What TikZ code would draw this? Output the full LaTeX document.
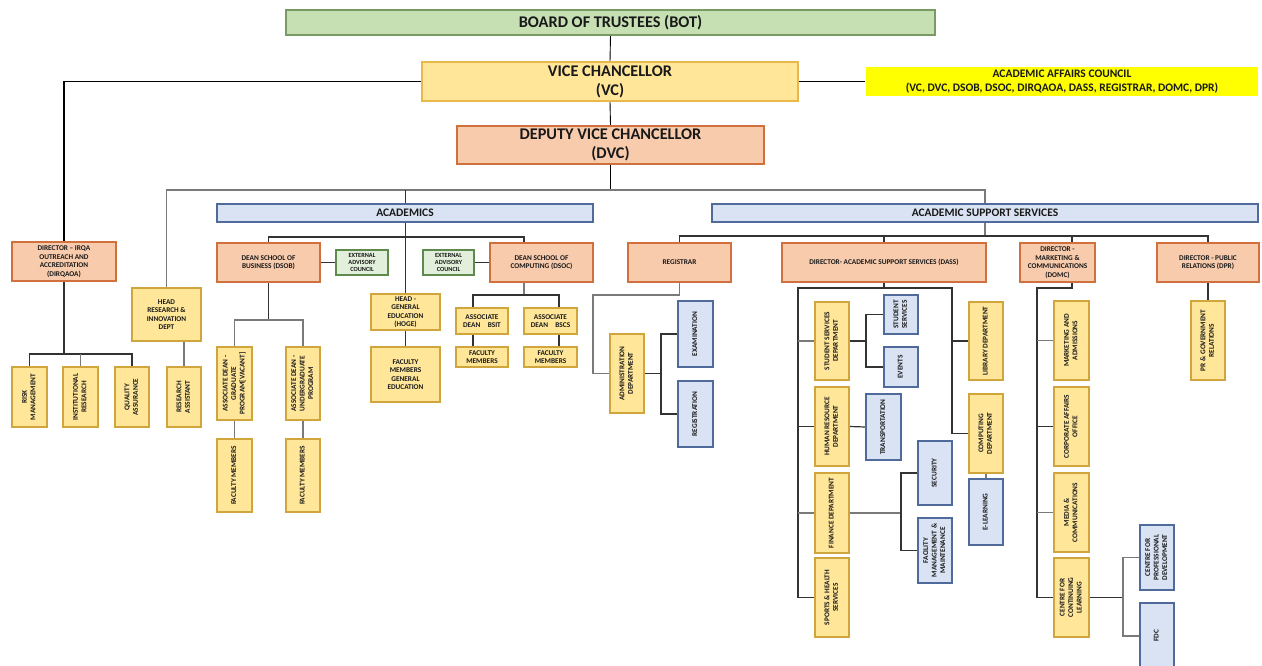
\documentclass[tikz,border=0pt]{standalone}
\usepackage{fontspec}
\setmainfont{Carlito}
\usepackage{graphicx}
\usetikzlibrary{backgrounds}

\definecolor{grnFill}{HTML}{C6E0B4}
\definecolor{grnLine}{HTML}{7A9A64}
\definecolor{eacFill}{HTML}{E2EFDA}
\definecolor{eacLine}{HTML}{5E8A4E}
\definecolor{vcFill}{HTML}{FFE699}
\definecolor{vcLine}{HTML}{E8B84A}
\definecolor{salFill}{HTML}{F8CBAD}
\definecolor{salLine}{HTML}{D0703C}
\definecolor{yelFill}{HTML}{FFE699}
\definecolor{yelLine}{HTML}{CFA53C}
\definecolor{bluFill}{HTML}{DAE3F3}
\definecolor{bluLine}{HTML}{4F6A9B}
\definecolor{aacFill}{HTML}{FFFF00}
\definecolor{wireDark}{HTML}{333333}
\definecolor{wireGray}{HTML}{7A7A7A}

\newcommand\smallf{\fontsize{7.3}{8.5}\selectfont}
\newcommand\tinyf{\fontsize{6.3}{7.4}\selectfont}
\newcommand\bigf{\fontsize{16.3}{19}\selectfont}
\newcommand\midf{\fontsize{11.5}{13.5}\selectfont}
% rotated multi-line label for the tall narrow boxes
\newcommand\vtext[1]{\rotatebox{90}{\begin{tabular}{@{}c@{}}#1\end{tabular}}}
% box from its corners: style, x1, y1, x2, y2, name, text
\newcommand\obox[7]{\node[#1,minimum width={(#4)-(#2)},minimum height={(#5)-(#3)}] (#6) at ({((#2)+(#4))/2},{((#3)+(#5))/2}) {#7};}

\tikzset{
  boxbase/.style={draw, line width=1.1pt, inner sep=0pt, align=center, font=\bfseries\smallf, text=black!90},
  grn/.style={boxbase, fill=grnFill, draw=grnLine},
  eac/.style={boxbase, fill=eacFill, draw=eacLine, font=\bfseries\tinyf},
  vcb/.style={boxbase, fill=vcFill, draw=vcLine},
  aacb/.style={boxbase, fill=aacFill, draw=none},
  sal/.style={boxbase, fill=salFill, draw=salLine, line width=1.3pt},
  yel/.style={boxbase, fill=yelFill, draw=yelLine},
  blu/.style={boxbase, fill=bluFill, draw=bluLine},
  wire/.style={draw=wireDark, line width=1.2pt},
  wireg/.style={draw=wireGray, line width=1.2pt},
  wiret/.style={draw=black, line width=0.9pt},
  wireb/.style={draw=black, line width=1.6pt},
}

\begin{document}
\begin{tikzpicture}[x=1pt,y=-1pt]
\useasboundingbox (0,0) rectangle (1262,666);

% ---- top of the organisation ----
\obox{grn,font=\bfseries\bigf}{286}{10}{935}{35}{bot}{BOARD OF TRUSTEES (BOT)}
\obox{vcb,font=\bfseries\bigf}{422}{62}{798}{101}{vc}{VICE CHANCELLOR\\(VC)}
\obox{aacb,font=\bfseries\midf}{866}{67}{1258}{96}{aac}{ACADEMIC AFFAIRS COUNCIL\\(VC, DVC, DSOB, DSOC, DIRQAOA, DASS, REGISTRAR, DOMC, DPR)}
\obox{sal,font=\bfseries\bigf}{457}{126}{764}{164}{dvc}{DEPUTY VICE CHANCELLOR\\(DVC)}
\obox{blu,font=\bfseries\midf}{217}{204}{593}{222}{acad}{ACADEMICS}
\obox{blu,font=\bfseries\midf}{712}{204}{1258}{222}{ass}{ACADEMIC SUPPORT SERVICES}

% ---- quality assurance and research ----
\obox{sal}{12}{242}{116}{281}{dirq}{DIRECTOR – IRQA\\OUTREACH AND\\ACCREDITATION\\(DIRQAOA)}
\obox{yel}{12}{367}{47}{427}{risk}{\vtext{RISK\\MANAGEMENT}}
\obox{yel}{63}{367}{98}{427}{inst}{\vtext{INSTITUTIONAL\\RESEARCH}}
\obox{yel}{115}{367}{149}{427}{qa}{\vtext{QUALITY\\ASSURANCE}}
\obox{yel}{132}{288}{201}{341}{rih}{HEAD\\RESEARCH \&\\INNOVATION\\DEPT}
\obox{yel}{167}{367}{201}{427}{ra}{\vtext{RESEARCH\\ASSISTANT}}

% ---- school of business ----
\obox{sal}{217}{243}{320}{282}{dsob}{DEAN SCHOOL OF\\BUSINESS (DSOB)}
\obox{eac}{336}{250}{388}{275}{eaca}{EXTERNAL\\ADVISORY\\COUNCIL}
\obox{yel}{217}{347}{252}{420}{adg}{\vtext{ASSOCIATE DEAN -\\GRADUATE\\PROGRAM[VACANT]}}
\obox{yel}{286}{347}{320}{420}{adu}{\vtext{ASSOCIATE DEAN -\\UNDERGRADUATE\\PROGRAM}}
\obox{yel}{217}{439}{252}{512}{fma}{\vtext{FACULTY MEMBERS}}
\obox{yel}{286}{439}{320}{512}{fmb}{\vtext{FACULTY MEMBERS}}

% ---- general education ----
\obox{yel}{371}{294}{440}{330}{hoge}{HEAD -\\GENERAL\\EDUCATION\\(HOGE)}
\obox{yel}{371}{347}{440}{402}{fmge}{FACULTY\\MEMBERS\\GENERAL\\EDUCATION}

% ---- school of computing ----
\obox{eac}{423}{250}{474}{275}{eacb}{EXTERNAL\\ADVISORY\\COUNCIL}
\obox{sal}{490}{243}{593}{282}{dsoc}{DEAN SCHOOL OF\\COMPUTING (DSOC)}
\obox{yel}{456}{308}{508}{334}{bsit}{ASSOCIATE\\DEAN\quad BSIT}
\obox{yel}{524}{308}{577}{334}{bscs}{ASSOCIATE\\DEAN\quad BSCS}
\obox{yel}{456}{347}{508}{367}{fmit}{FACULTY\\MEMBERS}
\obox{yel}{524}{347}{577}{367}{fmcs}{FACULTY\\MEMBERS}

% ---- registrar ----
\obox{sal}{628}{243}{731}{282}{reg}{REGISTRAR}
\obox{yel}{610}{334}{644}{413}{admin}{\vtext{ADMINISTRATION\\DEPARTMENT}}
\obox{blu}{678}{301}{713}{367}{exam}{\vtext{EXAMINATION}}
\obox{blu}{678}{381}{713}{447}{regn}{\vtext{REGISTRATION}}

% ---- academic support services ----
\obox{sal}{782}{243}{986}{282}{dass}{DIRECTOR- ACADEMIC SUPPORT SERVICES (DASS)}
\obox{yel}{815}{302}{849}{380}{ssd}{\vtext{STUDENT SERVICES\\DEPARTMENT}}
\obox{yel}{815}{387}{849}{466}{hr}{\vtext{HUMAN RESOURCE\\DEPARTMENT}}
\obox{yel}{815}{473}{849}{553}{fin}{\vtext{FINANCE DEPARTMENT}}
\obox{yel}{815}{558}{849}{637}{sport}{\vtext{SPORTS \& HEALTH\\SERVICES}}
\obox{blu}{884}{295}{918}{334}{studs}{\vtext{STUDENT\\SERVICES}}
\obox{blu}{884}{347}{918}{387}{events}{\vtext{EVENTS}}
\obox{blu}{866}{394}{901}{460}{trans}{\vtext{TRANSPORTATION}}
\obox{blu}{918}{441}{952}{505}{sec}{\vtext{SECURITY}}
\obox{blu}{918}{518}{952}{583}{fac}{\vtext{FACILITY\\MANAGEMENT \&\\MAINTENANCE}}
\obox{yel}{969}{302}{1003}{380}{lib}{\vtext{LIBRARY DEPARTMENT}}
\obox{yel}{969}{394}{1003}{473}{comp}{\vtext{COMPUTING\\DEPARTMENT}}
\obox{blu}{969}{479}{1003}{545}{elearn}{\vtext{E-LEARNING}}

% ---- marketing and communications ----
\obox{sal}{1020}{243}{1095}{282}{domc}{DIRECTOR -\\MARKETING \&\\COMMUNICATIONS\\(DOMC)}
\obox{yel}{1054}{301}{1089}{380}{mkt}{\vtext{MARKETING AND\\ADMISSIONS}}
\obox{yel}{1054}{387}{1089}{466}{corp}{\vtext{CORPORATE AFFAIRS\\OFFICE}}
\obox{yel}{1054}{473}{1089}{552}{media}{\vtext{MEDIA \&\\COMMUNICATIONS}}
\obox{yel}{1054}{558}{1089}{637}{ccl}{\vtext{CENTRE FOR\\CONTINUING\\LEARNING}}
\obox{blu}{1140}{525}{1174}{590}{cpd}{\vtext{CENTRE FOR\\PROFESSIONAL\\DEVELOPMENT}}
\obox{blu}{1140}{603}{1174}{669}{fdc}{\vtext{FDC}}

% ---- public relations ----
\obox{sal}{1157}{243}{1259}{282}{dpr}{DIRECTOR - PUBLIC\\RELATIONS (DPR)}
\obox{yel}{1191}{301}{1225}{380}{pr}{\vtext{PR \& GOVERNMENT\\RELATIONS}}

% ---- connectors, kept behind the boxes ----
\begin{scope}[on background layer]
  \fill[white] (0,0) rectangle (1262,666);
  \coordinate (t1) at (610.5,190);
  \coordinate (t2) at (985,236);
  \coordinate (t3) at (405.5,237);
  \coordinate (t4) at (64,354);
  \coordinate (t5) at (268.5,320);
  \coordinate (t6) at (524,295);
  \coordinate (xdsoc) at (524,0);
  \coordinate (xbsit) at (473,0);
  \coordinate (xbscs) at (559,0);
  \coordinate (xdomc) at (1072,0);

  \draw[wiret] (bot.south) -- (vc.north);
  \draw[wiret] (vc.south) -- (dvc.north);
  \draw[wireb] (vc.west) -| (dirq.north);
  \draw[wireb] (vc.east) -- (vc.east -| aac.west);
  \draw[wiret] (dvc.south) -- (t1);
  \draw[wireg] (rih.north) |- (t1) -| (ass.north);
  \draw[wire] (t1 -| hoge.north) -- (hoge.north);
  \draw[wireg] (ass.south) -- (ass.south |- t2);
  \draw[wire] (reg.north) |- (t2) -| (dpr.north);
  \draw[wire] (dass.north) -- (dass.north |- t2);
  \draw[wire] (domc.north -| xdomc) -- (t2 -| xdomc);

  % quality assurance and research
  \draw[wire] (dirq.south) -- (t4);
  \draw[wire] (risk.north) |- (t4) -| (qa.north);
  \draw[wireg] (inst.north) -- (inst.north |- t4);
  \draw[wireg] (rih.south -| ra.north) -- (ra.north);

  % schools
  \draw[wire] (dsob.north) |- (t3) -| (dsoc.north -| xdsoc);
  \draw[wire] (dsob.east) -- (eaca.west);
  \draw[wire] (eacb.east) -- (dsoc.west);
  \draw[wire] (dsob.south) -- (t5);
  \draw[wireg] (adg.north) |- (t5) -| (adu.north);
  \draw[wireg] (adg.south) -- (fma.north);
  \draw[wireg] (adu.south) -- (fmb.north);
  \draw[wire] (hoge.south) -- (fmge.north);
  \draw[wireg] (dsoc.south -| xdsoc) -- (t6);
  \draw[wire] (bsit.north -| xbsit) |- (t6) -| (bscs.north -| xbscs);
  \draw[wire] (bsit.south -| xbsit) -- (fmit.north -| xbsit);
  \draw[wire] (bscs.south -| xbscs) -- (fmcs.north -| xbscs);

  % registrar
  \coordinate (r1) at (593,295);
  \coordinate (r2) at (661,374);
  \draw[wireg] (reg.south) |- (r1) |- (admin.west);
  \draw[wire] (admin.east) -- (admin.east -| r2);
  \draw[wire] (exam.west) -| (r2) |- (regn.west);

  % academic support services
  \coordinate (d0) at (884,288);
  \coordinate (dl) at (798,288);
  \coordinate (dr) at (952,288);
  \coordinate (d1) at (866,341);
  \coordinate (d2) at (901,513);
  \draw[wire] (dass.south) -- (d0);
  \draw[wire] (sport.west) -| (dl) -- (dr) |- (comp.west);
  \draw[wireg] (ssd.west) -- (ssd.west -| dl);
  \draw[wire] (hr.west) -- (hr.west -| dl);
  \draw[wireg] (fin.west) -- (fin.west -| dl);
  \draw[wire] (lib.west) -- (lib.west -| dr);
  \draw[wire] (ssd.east) -- (ssd.east -| d1);
  \draw[wire] (studs.west) -| (d1) |- (events.west);
  \draw[wire] (hr.east) -- (trans.west);
  \draw[wireg] (fin.east) -- (fin.east -| d2);
  \draw[wire] (sec.west) -| (d2) |- (fac.west);
  \draw[wireg] (comp.south) -- (elearn.north);

  % marketing and communications
  \coordinate (m1) at (1072,288);
  \coordinate (m2) at (1037,288);
  \coordinate (m3) at (1123,597.5);
  \draw[wire] (domc.south -| xdomc) -- (m1) -- (m2) |- (ccl.west);
  \draw[wireg] (mkt.west) -- (mkt.west -| m2);
  \draw[wire] (corp.west) -- (corp.west -| m2);
  \draw[wireg] (media.west) -- (media.west -| m2);
  \draw[wire] (ccl.east) -- (ccl.east -| m3);
  \draw[wireg] (cpd.west) -| (m3) |- (fdc.west);

  % public relations
  \draw[wire] (dpr.south) -- (pr.north);
\end{scope}
\end{tikzpicture}
\end{document}
